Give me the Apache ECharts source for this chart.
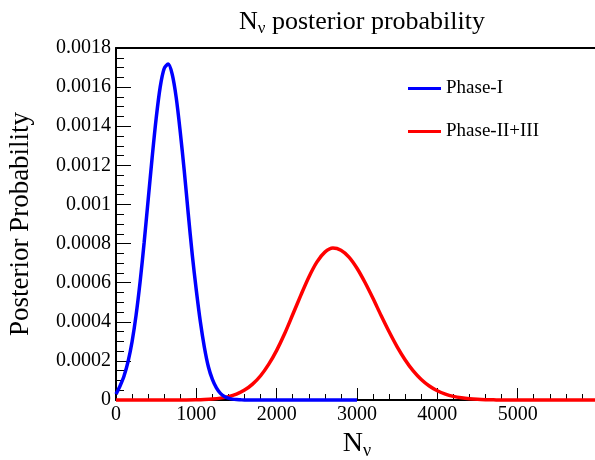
<!DOCTYPE html>
<html>
<head>
<meta charset="utf-8">
<script src="https://cdn.jsdelivr.net/npm/echarts@6/dist/echarts.min.js"></script>
<style>html,body{margin:0;padding:0;background:#fff;}#c{width:595px;height:460px;}</style>
</head>
<body>
<div id="c"></div>
<script>
// ---- data ----
const titleText = 'posterior probability';
const xName = 'N';
const yName = 'Posterior Probability';
const seriesNames = ['Phase-I', 'Phase-II+III'];

const phase1X = [0,50,100,150,200,250,300,350,400,450,500,550,600,650,700,750,800,850,900,950,1000,1050,1100,1150,1200,1250,1300,1350,1400,1450,1500,1550,1600,1800,2000,2200,2400,2600,2800,3000];
const phase1Y = [0.00003,0.000072,0.000123,0.000196,0.000298,0.000434,0.000604,0.000804,0.001022,0.00124,0.00144,0.0016,0.001695,0.001718,0.001665,0.001545,0.00137,0.00117,0.00095,0.00074,0.00056,0.0004,0.00027,0.00017,0.000105,0.000062,0.000034,0.000018,0.0000092,0.0000045,0.000002,0.000001,0,0,0,0,0,0,0,0];

const phase2X = [0,200,400,600,800,1000,1100,1200,1300,1400,1500,1600,1700,1800,1900,2000,2100,2200,2300,2400,2500,2600,2700,2800,2900,3000,3100,3200,3300,3400,3500,3600,3700,3800,3900,4000,4100,4200,4300,4400,4500,4600,4700,4800,5000,5200,5400,5600,5800,6000];
const phase2Y = [0,0,0,0,0,0.0000012,0.0000025,0.000005,0.0000095,0.0000173,0.0000303,0.0000506,0.000081,0.000124,0.000182,0.000254,0.00034,0.000437,0.000535,0.000628,0.000705,0.000756,0.000777,0.000766,0.000731,0.000674,0.000601,0.000519,0.000432,0.000349,0.000272,0.000205,0.000149,0.000105,0.0000716,0.0000472,0.0000301,0.0000185,0.000011,0.0000063,0.0000035,0.0000019,0.000001,0,0,0,0,0,0,0];

const xTicks = [0,1000,2000,3000,4000,5000];
const yTickLabels = ['0','0.0002','0.0004','0.0006','0.0008','0.001','0.0012','0.0014','0.0016','0.0018'];

// ---- chart ----
const FONT = '"Liberation Serif", "DejaVu Serif", serif';
const chart = echarts.init(document.getElementById('c'), null, {renderer: 'canvas'});
const pair = (xs, ys) => xs.map((x, i) => [x, ys[i]]);

chart.setOption({
  animation: false,
  backgroundColor: '#ffffff',
  title: {
    text: '{a|N}{s|ν}{a| ' + titleText + '}',
    left: 357,
    textAlign: 'center',
    top: 2,
    textStyle: {
      fontWeight: 'normal',
      rich: {
        a: {fontFamily: FONT, fontSize: 26, color: '#000', fontWeight: 'normal'},
        s: {fontFamily: FONT, fontSize: 17, color: '#000', fontWeight: 'normal', verticalAlign: 'bottom', padding: [13, 0, 0, 0]}
      }
    }
  },
  legend: {
    orient: 'vertical',
    left: 403,
    top: 74,
    itemWidth: 33,
    itemHeight: 19,
    itemGap: 24,
    icon: 'path://M0,8 L33,8 L33,11 L0,11 Z',
    textStyle: {fontFamily: FONT, fontSize: 19, color: '#000'},
    data: seriesNames
  },
  grid: {left: 116, right: -3, top: 48, bottom: 60, containLabel: false, outerBoundsMode: 'none'},
  xAxis: [{
    type: 'value',
    min: 0, max: 6000, interval: 1000,
    position: 'bottom',
    name: '{a|' + xName + '}{s|ν}',
    nameLocation: 'middle',
    nameGap: 26,
    nameTextStyle: {
      rich: {
        a: {fontFamily: FONT, fontSize: 28, color: '#000'},
        s: {fontFamily: FONT, fontSize: 18, color: '#000', verticalAlign: 'bottom', padding: [14, 0, 0, 0]}
      }
    },
    axisLine: {show: true, lineStyle: {color: '#000', width: 2}},
    axisTick: {show: true, inside: true, length: 12, lineStyle: {color: '#000', width: 1}},
    minorTick: {show: true, splitNumber: 5, length: 6, lineStyle: {color: '#000', width: 1}},
    splitLine: {show: false},
    axisLabel: {
      fontFamily: FONT, fontSize: 20, color: '#000', margin: 5,
      showMaxLabel: false,
      formatter: v => (xTicks.indexOf(v) >= 0 ? String(v) : '')
    }
  }, {
    type: 'value',
    min: 0, max: 6000,
    position: 'top',
    axisLine: {show: true, lineStyle: {color: '#000', width: 2}},
    axisTick: {show: false},
    axisLabel: {show: false},
    splitLine: {show: false}
  }],
  yAxis: {
    type: 'value',
    min: 0, max: 0.0018, interval: 0.0002,
    name: yName,
    nameLocation: 'middle',
    nameGap: 82,
    nameTextStyle: {fontFamily: FONT, fontSize: 27, color: '#000'},
    axisLine: {show: true, lineStyle: {color: '#000', width: 2}},
    axisTick: {show: true, inside: true, length: 15, lineStyle: {color: '#000', width: 1}},
    minorTick: {show: true, splitNumber: 4, length: 8, lineStyle: {color: '#000', width: 1}},
    splitLine: {show: false},
    axisLabel: {
      fontFamily: FONT, fontSize: 20, color: '#000', margin: 5,
      formatter: v => yTickLabels[Math.round(v / 0.0002)]
    }
  },
  series: [{
    name: seriesNames[1],
    type: 'line',
    data: pair(phase2X, phase2Y),
    showSymbol: false,
    smooth: 0.3,
    clip: false,
    z: 3,
    lineStyle: {color: '#ff0000', width: 3.5},
    itemStyle: {color: '#ff0000'}
  }, {
    name: seriesNames[0],
    type: 'line',
    data: pair(phase1X, phase1Y),
    showSymbol: false,
    smooth: 0.3,
    clip: false,
    z: 4,
    lineStyle: {color: '#0000ff', width: 3.5},
    itemStyle: {color: '#0000ff'}
  }]
});
</script>
</body>
</html>
